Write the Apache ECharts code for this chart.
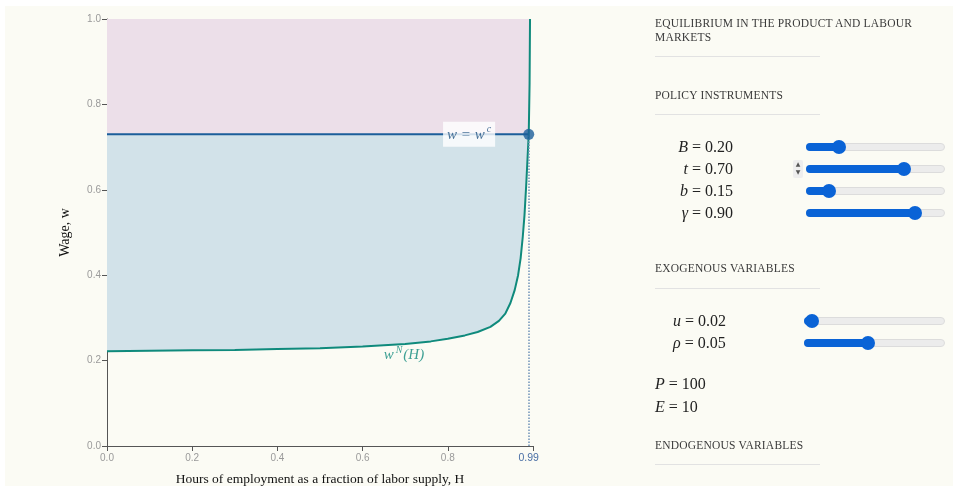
<!DOCTYPE html>
<html>
<head>
<meta charset="utf-8">
<script src="https://cdn.jsdelivr.net/npm/echarts@6/dist/echarts.min.js"></script>
<style>
  body { margin: 0; background: #ffffff; width: 953px; height: 486px; overflow: hidden; }
  #page { position: absolute; left: 5px; top: 6px; right: 0; bottom: 0; background: #fbfbf4; }
  #chart { position: absolute; left: 0; top: 0; width: 640px; height: 486px; }
  #panel { position: absolute; left: 0; top: 0; width: 953px; height: 486px; pointer-events: none;
           font-family: 'Liberation Serif', serif; color: #333; }
  .head { position: absolute; left: 655px; font-size: 11.5px; letter-spacing: 0.2px; line-height: 14px; color: #3a3a3a; }
  .rule { position: absolute; left: 655px; width: 165px; height: 1px; background: #e2e2e2; }
  .math { position: absolute; font-size: 16px; line-height: 18px; color: #222; white-space: nowrap; }
  .math i { font-style: italic; }
  .track { position: absolute; height: 8px; border-radius: 5px; background: #ececec; border: 1px solid #dcdcdc; box-sizing: border-box; }
  .fill { position: absolute; left: -1px; top: -1px; height: 8px; border-radius: 5px; background: #0a63d6; }
  .thumb { position: absolute; top: -4px; width: 14px; height: 14px; border-radius: 50%; background: #0a63d6; margin-left: -7px; }
  .spin { position: absolute; left: 793px; top: 160px; width: 10px; height: 18px; background: #eeeeee; border-radius: 2px;
          font-size: 6px; line-height: 8px; text-align: center; color: #555; font-family: 'DejaVu Sans', sans-serif; }
</style>
</head>
<body>
<div id="page"></div>
<div id="chart"></div>
<div id="panel"></div>
<script>
// wage-setting curve w^N(H)
const hours = [0, 0.1, 0.2, 0.3, 0.4, 0.5, 0.6, 0.7, 0.76, 0.8, 0.84, 0.87, 0.9, 0.92, 0.935, 0.947,
               0.957, 0.965, 0.971, 0.976, 0.98, 0.984, 0.987, 0.99, 0.992, 0.993];
const wageN = [0.222, 0.223, 0.224, 0.225, 0.227, 0.229, 0.233, 0.239, 0.245, 0.251, 0.259, 0.267, 0.279, 0.293, 0.31, 0.335,
               0.365, 0.40, 0.44, 0.49, 0.54, 0.61, 0.67, 0.73, 0.85, 1.0];
const wageC = 0.73;
const hEq = 0.99;
const xTicks = ['0.0', '0.2', '0.4', '0.6', '0.8'];

// right panel values
const headings = [['EQUILIBRIUM IN THE PRODUCT AND LABOUR<br>MARKETS', 16, 56], ['POLICY INSTRUMENTS', 88, 114],
                  ['EXOGENOUS VARIABLES', 261, 288], ['ENDOGENOUS VARIABLES', 438, 464]];
const policyNames = ['B', 't', 'b', 'γ'];
const policyValues = ['0.20', '0.70', '0.15', '0.90'];
const policyPos = [0.23, 0.70, 0.16, 0.78];
const exoNames = ['u', 'ρ'];
const exoValues = ['0.02', '0.05'];
const exoPos = [0.05, 0.45];
const fixedNames = ['P', 'E'];
const fixedValues = ['100', '10'];

const curve = hours.map((h, i) => [h, wageN[i]]);
const below = curve.filter(p => p[1] <= wageC);
const above = curve.filter(p => p[1] >= wageC);
const bluePoly = [[0, wageC]].concat(below);
const pinkPoly = [[0, wageC]].concat(above).concat([[0, 1]]);

function polygon(points, color) {
    return {
        type: 'custom',
        silent: true,
        z: 1,
        data: [0],
        renderItem: function (params, api) {
            return {
                type: 'polygon',
                shape: { points: points.map(p => api.coord(p)) },
                style: { fill: color }
            };
        }
    };
}

const chart = echarts.init(document.getElementById('chart'));
const option = {
    animation: false,
    backgroundColor: 'transparent',
    grid: { left: 107, right: 107, top: 19, bottom: 40, outerBoundsMode: 'none', containLabel: false },
    xAxis: {
        type: 'value', min: 0, max: 1, interval: 0.2,
        name: 'Hours of employment as a fraction of labor supply, H',
        nameLocation: 'middle', nameGap: 26,
        nameTextStyle: { fontFamily: 'Liberation Serif', fontSize: 13.5, color: '#111' },
        axisLine: { lineStyle: { color: '#555', width: 1 } },
        axisTick: { length: 5, lineStyle: { color: '#555' } },
        axisLabel: { fontSize: 10, color: '#9a9a9a', margin: 7, formatter: v => v >= 0.999 ? '' : xTicks[Math.round(v / 0.2)] },
        splitLine: { show: false }
    },
    yAxis: {
        type: 'value', min: 0, max: 1, interval: 0.2,
        name: 'Wage, w', nameLocation: 'middle', nameGap: 35,
        nameTextStyle: { fontFamily: 'Liberation Serif', fontSize: 14, color: '#111' },
        axisLine: { show: true, lineStyle: { color: '#555', width: 1 } },
        axisTick: { show: true, length: 5, lineStyle: { color: '#555' } },
        axisLabel: { fontSize: 10, color: '#9a9a9a', margin: 6, formatter: v => v.toFixed(1) },
        splitLine: { show: false }
    },
    series: [
        polygon(pinkPoly, '#ecdfe9'),
        polygon(bluePoly, '#d2e2e9'),
        {
            type: 'line', data: [[0, wageC], [hEq, wageC]], symbol: 'none', z: 3,
            lineStyle: { color: '#1b5e9a', width: 2 },
            markLine: {
                silent: true, symbol: 'none',
                lineStyle: { color: '#6f92b8', type: 'dotted', width: 1.5 },
                label: { position: 'start', formatter: '0.99', color: '#4a6fa5', fontSize: 10.5, distance: 7 },
                data: [[{ coord: [hEq, 0] }, { coord: [hEq, wageC] }]]
            }
        },
        {
            type: 'line', data: curve, symbol: 'none', z: 4,
            lineStyle: { color: '#0f8a7c', width: 2 }
        },
        {
            type: 'scatter', data: [[hEq, wageC]], symbolSize: 11, z: 5,
            itemStyle: { color: '#1b5e9a' }
        },
        {
            type: 'scatter', data: [[0.85, wageC]], symbolSize: 0, z: 6,
            label: {
                show: true, position: 'inside', backgroundColor: '#ffffff', padding: [3, 4, 2, 4],
                formatter: '{i|w = w}{s|c}',
                rich: {
                    i: { fontFamily: 'Liberation Serif', fontStyle: 'italic', fontSize: 15, color: '#1b4f80' },
                    s: { fontFamily: 'Liberation Serif', fontStyle: 'italic', fontSize: 10, color: '#1b4f80', verticalAlign: 'top', padding: [0, 0, 10, 2] }
                }
            }
        },
        {
            type: 'scatter', data: [[0.697, 0.212]], symbolSize: 0, z: 6,
            label: {
                show: true, position: 'inside',
                formatter: '{i|w}{s|N}{i|(H)}',
                rich: {
                    i: { fontFamily: 'Liberation Serif', fontStyle: 'italic', fontSize: 15, color: '#0f8a7c' },
                    s: { fontFamily: 'Liberation Serif', fontStyle: 'italic', fontSize: 10, color: '#0f8a7c', verticalAlign: 'top', padding: [0, 1, 10, 2] }
                }
            }
        }
    ]
};
chart.setOption(option);

// right hand panel
let html = '';
headings.forEach(h => {
    html += '<div class="head" style="top:' + h[1] + 'px">' + h[0] + '</div>';
    html += '<div class="rule" style="top:' + h[2] + 'px"></div>';
});
function slider(left, width, top, pos) {
    const px = Math.round(pos * width);
    return '<div class="track" style="left:' + left + 'px;top:' + top + 'px;width:' + width + 'px">' +
        '<div class="fill" style="width:' + (px + 4) + 'px"></div>' +
        '<div class="thumb" style="left:' + px + 'px"></div></div>';
}
policyNames.forEach((n, i) => {
    const y = 138 + i * 22;
    html += '<div class="math" style="left:640px;width:93px;text-align:right;top:' + y + 'px"><i>' + n + '</i> = ' + policyValues[i] + '</div>';
    html += slider(806, 139, y + 5, policyPos[i]);
});
html += '<div class="spin">▲<br>▼</div>';
exoNames.forEach((n, i) => {
    const y = 312 + i * 22;
    html += '<div class="math" style="left:673px;top:' + y + 'px"><i>' + n + '</i> = ' + exoValues[i] + '</div>';
    html += slider(804, 141, y + 5, exoPos[i]);
});
fixedNames.forEach((n, i) => {
    const y = 375 + i * 23;
    html += '<div class="math" style="left:655px;top:' + y + 'px"><i>' + n + '</i> = ' + fixedValues[i] + '</div>';
});
document.getElementById('panel').innerHTML = html;
</script>
</body>
</html>
